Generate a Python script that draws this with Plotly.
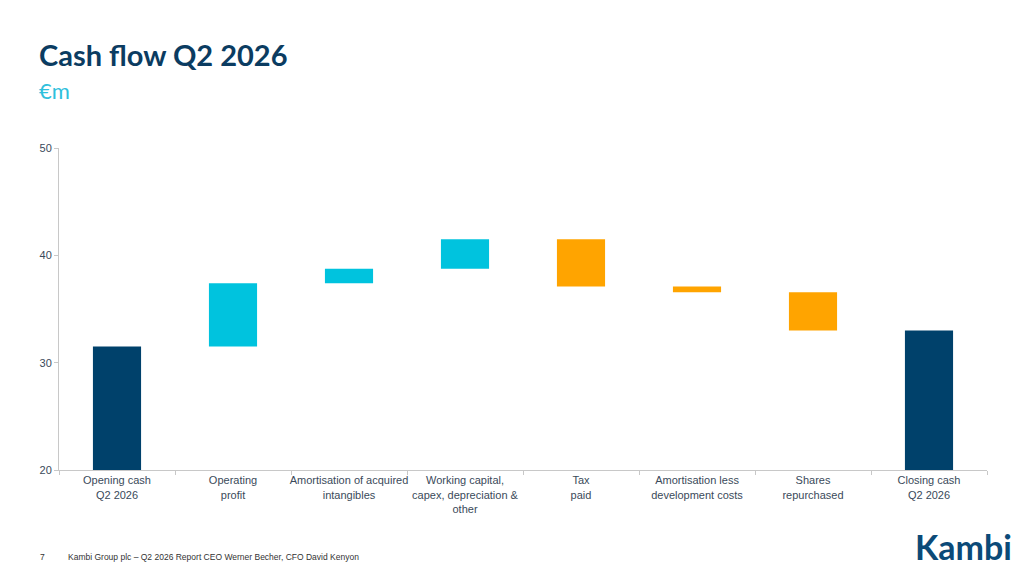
import plotly.graph_objects as go

categories = [
    "Opening cash<br>Q2 2026",
    "Operating<br>profit",
    "Amortisation of acquired<br>intangibles",
    "Working capital,<br>capex, depreciation &<br>other",
    "Tax<br>paid",
    "Amortisation less<br>development costs",
    "Shares<br>repurchased",
    "Closing cash<br>Q2 2026",
]
values = [31.5, 5.9, 1.35, 2.75, -4.4, -0.55, -3.55, 0]
measures = ["absolute", "relative", "relative", "relative", "relative", "relative", "relative", "total"]
y_ticks = [20, 30, 40, 50]

NAVY = "#00416b"
CYAN = "#00c3de"
ORANGE = "#ffa400"
TEXT = "#3a4a5a"
LABEL_FONT = "Liberation Sans, Arial, sans-serif"

fig = go.Figure(go.Waterfall(
    x=categories,
    y=values,
    measure=measures,
    increasing=dict(marker=dict(color=CYAN)),
    decreasing=dict(marker=dict(color=ORANGE)),
    totals=dict(marker=dict(color=NAVY)),
    connector=dict(visible=False),
    hoverinfo="x+y",
))

fig.update_layout(
    width=1024, height=578,
    margin=dict(l=59, r=37, t=148, b=108),
    paper_bgcolor="white", plot_bgcolor="white",
    showlegend=False,
    waterfallgap=0.585,
    font=dict(family=LABEL_FONT, size=11, color=TEXT),
    xaxis=dict(
        showline=True, linecolor="#c8c8c8", linewidth=1, tickangle=0,
        ticks="outside", ticklen=4, tickcolor="#c8c8c8", tickson="boundaries",
        showgrid=False, tickfont=dict(size=11, color=TEXT, family=LABEL_FONT),
    ),
    yaxis=dict(
        range=[20, 50], tickvals=y_ticks, showgrid=False, zeroline=False,
        showline=True, linecolor="#c8c8c8", linewidth=1,
        ticks="outside", ticklen=4, tickcolor="#c8c8c8",
        tickfont=dict(size=11, color=TEXT, family=LABEL_FONT),
    ),
    annotations=[
        dict(text="<b>Cash flow Q2 2026</b>", x=37, y=578-54, showarrow=False,
             xanchor="left", yanchor="middle",
             font=dict(size=29, color="#0b3c61", family="Lato, Open Sans, sans-serif")),
        dict(text="€m", x=37, y=578-90, showarrow=False, xanchor="left", yanchor="middle",
             font=dict(size=22, color="#2fc0dc", family="Lato, Open Sans, sans-serif")),
        dict(text="7", x=38, y=578-557, showarrow=False, xanchor="left", yanchor="middle",
             font=dict(size=8.5, color="#333333", family=LABEL_FONT)),
        dict(text="Kambi Group plc – Q2 2026 Report CEO Werner Becher, CFO David Kenyon",
             x=66, y=578-557, showarrow=False, xanchor="left", yanchor="middle",
             font=dict(size=8.5, color="#333333", family=LABEL_FONT)),
        dict(text="<b>Kambi</b>", x=1014, y=578-546, showarrow=False, xanchor="right", yanchor="middle",
             font=dict(size=34, color="#0b4a78", family="Lato, Open Sans, sans-serif")),
    ],
)
pw = 1024 - 59 - 37
ph = 578 - 148 - 108
for a in fig.layout.annotations:
    a.xref = "paper"; a.yref = "paper"
    a.x = (a.x - 59) / pw
    a.y = (a.y - 108) / ph

fig.write_html("out.html")
